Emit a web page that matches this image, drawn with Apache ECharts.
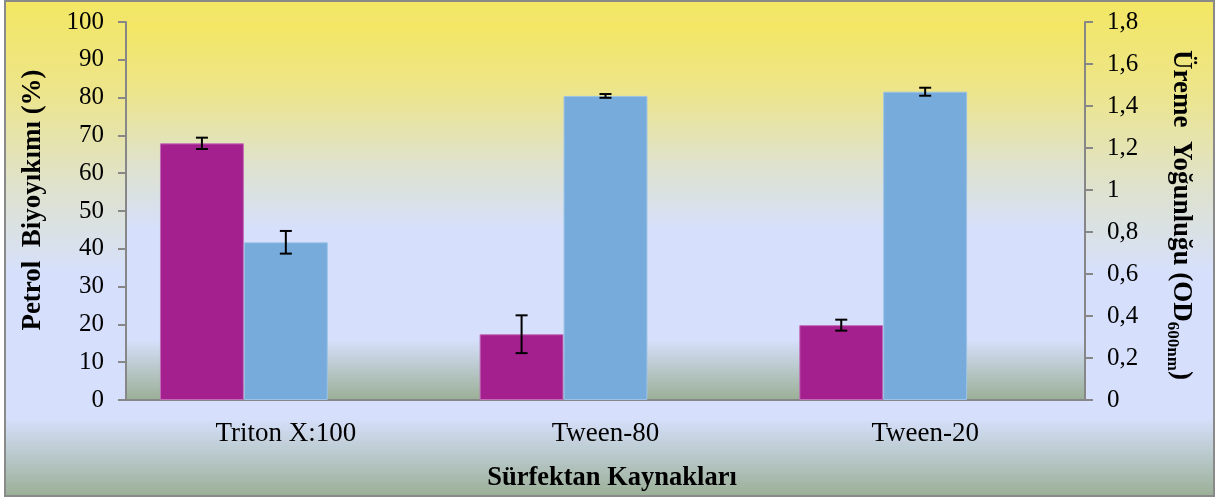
<!DOCTYPE html>
<html><head><meta charset="utf-8">
<script src="https://cdn.jsdelivr.net/npm/echarts@6/dist/echarts.min.js"></script>
<style>html,body{margin:0;padding:0;background:#fff}#c{width:1217px;height:500px}</style>
</head><body><div id="c"></div>
<script>
const categories = ['Triton X:100', 'Tween-80', 'Tween-20'];
const biodegradation = [67.9, 17.4, 19.8];      // % (left axis)
const biodegradationErr = [1.5, 5.0, 1.45];
const growth = [0.751, 1.448, 1.468];            // OD600 (right axis)
const growthErr = [0.054, 0.009, 0.019];
const leftTitle = 'Petrol  Biyoyıkımı (%)';
const xTitle = 'Sürfektan Kaynakları';

const FONT = '"Liberation Serif", "Times New Roman", serif';
const AXIS = '#878787';
const CAT_GAP = 0.2125;
const bg = {type:'linear',x:0,y:0,x2:0,y2:1,colorStops:[
  {offset:0,color:'#F3E762'},{offset:0.18,color:'#EDE58A'},{offset:0.38,color:'#DEE2CE'},
  {offset:0.55,color:'#D6E0FC'},{offset:0.84,color:'#D6E0FC'},{offset:1,color:'#9AAF96'}]};

function errItem(seriesIdx){
  return function(params, api){
    const i = api.value(0), v = api.value(1), e = api.value(2);
    const band = api.size([1,0])[0];
    const bw = band*(1-CAT_GAP)/3;
    const c = api.coord([i, v]);
    const x = c[0] + (seriesIdx===0 ? -bw : 0);
    const top = api.coord([i, v+e])[1], bot = api.coord([i, v-e])[1];
    const st = {stroke:'#000', lineWidth:2};
    return {type:'group', children:[
      {type:'line', shape:{x1:x,y1:top,x2:x,y2:bot}, style:st},
      {type:'line', shape:{x1:x-6,y1:top,x2:x+6,y2:top}, style:st},
      {type:'line', shape:{x1:x-6,y1:bot,x2:x+6,y2:bot}, style:st}
    ]};
  };
}

const chart = echarts.init(document.getElementById('c'));
chart.setOption({
  animation:false,
  backgroundColor:'#fff',
  graphic:[
    {type:'rect', z:-10, shape:{x:5,y:1,width:1209,height:495}, style:{fill:bg, stroke:'#8A8A8A', lineWidth:2}},
    {type:'text', x:33, y:200, rotation:Math.PI/2, style:{text:leftTitle, font:'bold 27px '+FONT, fill:'#000', align:'center', verticalAlign:'middle'}},
    {type:'text', x:1183, y:215, rotation:-Math.PI/2, style:{
      text:'{b|Üreme  Yoğunluğu (OD}{s|600nm}{b|)}', align:'center', verticalAlign:'middle',
      rich:{b:{font:'bold 27px '+FONT, fill:'#000', lineHeight:32, verticalAlign:'bottom'},
            s:{font:'bold 17px '+FONT, fill:'#000', lineHeight:32, verticalAlign:'bottom', padding:[0,0,-3,0]}}}},
    {type:'text', x:612, y:478, style:{text:xTitle, font:'bold 26.5px '+FONT, fill:'#000', align:'center', verticalAlign:'middle'}}
  ],
  grid:{left:126, right:132, top:22, bottom:100, show:true, backgroundColor:bg, borderWidth:0},
  xAxis:{type:'category', data:categories,
    axisLine:{lineStyle:{color:AXIS,width:2}}, axisTick:{length:8,lineStyle:{color:AXIS,width:2}},
    axisLabel:{color:'#000', fontFamily:FONT, fontSize:27, margin:20}},
  yAxis:[
    {type:'value', min:0, max:100, interval:10, splitLine:{show:false},
     axisLine:{show:true,lineStyle:{color:AXIS,width:2}}, axisTick:{show:true,length:8,lineStyle:{color:AXIS,width:2}},
     axisLabel:{color:'#000', fontFamily:FONT, fontSize:25, margin:22}},
    {type:'value', min:0, max:1.8, interval:0.2, splitLine:{show:false}, position:'right',
     axisLine:{show:true,lineStyle:{color:AXIS,width:2}}, axisTick:{show:true,length:8,lineStyle:{color:AXIS,width:2}},
     axisLabel:{color:'#000', fontFamily:FONT, fontSize:25, margin:22,
       formatter:v=>String(+v.toFixed(1)).replace('.',',')}}
  ],
  series:[
    {type:'bar', data:biodegradation, yAxisIndex:0, barGap:'0%', barCategoryGap:'21.25%',
     itemStyle:{color:'#A3208E', borderColor:'#C46BB8', borderWidth:1}},
    {type:'bar', data:growth, yAxisIndex:1, barGap:'0%', barCategoryGap:'21.25%',
     itemStyle:{color:'#77ABDB', borderColor:'#9CC3E6', borderWidth:1}},
    {type:'bar', data:categories.map(()=>null), yAxisIndex:1, barGap:'0%', barCategoryGap:'21.25%', silent:true},
    {type:'custom', yAxisIndex:0, z:10, renderItem:errItem(0), encode:{x:0,y:1},
     data:biodegradation.map((v,i)=>[i,v,biodegradationErr[i]])},
    {type:'custom', yAxisIndex:1, z:10, renderItem:errItem(1), encode:{x:0,y:1},
     data:growth.map((v,i)=>[i,v,growthErr[i]])}
  ]
});
</script></body></html>
